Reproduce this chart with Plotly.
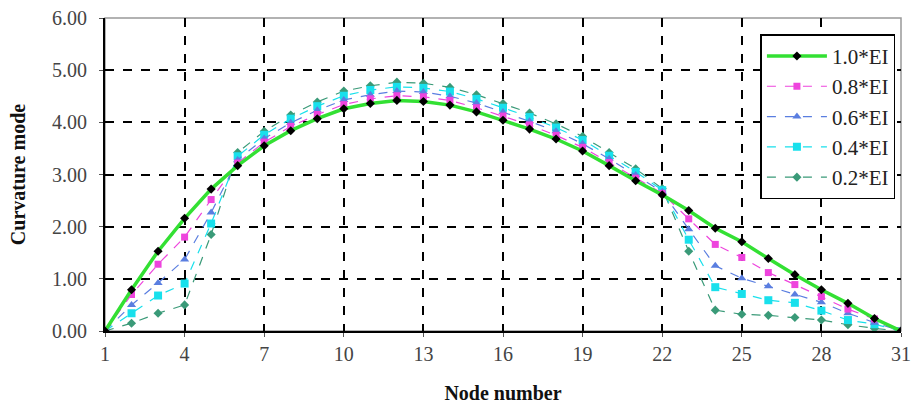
import plotly.graph_objects as go

nodes = list(range(1, 32))

ei_10 = [0.00, 0.79, 1.53, 2.16, 2.72, 3.17, 3.55, 3.84, 4.07, 4.26, 4.36, 4.42, 4.40, 4.33, 4.20,
         4.04, 3.87, 3.68, 3.45, 3.17, 2.88, 2.61, 2.31, 1.97, 1.71, 1.39, 1.08, 0.79, 0.53, 0.24, 0.00]
ei_08 = [0.00, 0.70, 1.28, 1.80, 2.52, 3.22, 3.62, 3.92, 4.15, 4.34, 4.45, 4.51, 4.49, 4.42, 4.28,
         4.12, 3.95, 3.75, 3.52, 3.23, 2.93, 2.64, 2.15, 1.66, 1.41, 1.12, 0.89, 0.66, 0.42, 0.23, 0.00]
ei_06 = [0.00, 0.50, 0.92, 1.37, 2.27, 3.28, 3.69, 3.99, 4.23, 4.43, 4.53, 4.60, 4.58, 4.50, 4.37,
         4.20, 4.02, 3.83, 3.59, 3.30, 2.99, 2.67, 1.95, 1.25, 1.01, 0.86, 0.70, 0.55, 0.34, 0.16, 0.00]
ei_04 = [0.00, 0.34, 0.68, 0.91, 2.06, 3.35, 3.76, 4.07, 4.31, 4.51, 4.62, 4.68, 4.66, 4.59, 4.45,
         4.28, 4.10, 3.90, 3.66, 3.36, 3.05, 2.70, 1.75, 0.84, 0.71, 0.59, 0.54, 0.39, 0.21, 0.13, 0.00]
ei_02 = [0.00, 0.15, 0.34, 0.50, 1.85, 3.42, 3.83, 4.14, 4.39, 4.60, 4.70, 4.77, 4.75, 4.67, 4.53,
         4.36, 4.18, 3.97, 3.73, 3.42, 3.11, 2.73, 1.53, 0.40, 0.32, 0.30, 0.26, 0.21, 0.12, 0.05, 0.00]

x_ticks = [1, 4, 7, 10, 13, 16, 19, 22, 25, 28, 31]
y_ticks = [0, 1, 2, 3, 4, 5, 6]
y_tick_text = ["0.00", "1.00", "2.00", "3.00", "4.00", "5.00", "6.00"]

serif = "Liberation Serif, Times New Roman, serif"

fig = go.Figure()

series = [
    ("0.2*EI", ei_02, "#3a9a78", "diamond", 7, 5),
    ("0.4*EI", ei_04, "#18e0ec", "square", 8, 4),
    ("0.6*EI", ei_06, "#5a7ee0", "triangle-up", 8, 3),
    ("0.8*EI", ei_08, "#ee44dd", "square", 7, 2),
]
for name, vals, col, sym, sz, rank in series:
    fig.add_trace(go.Scatter(
        x=nodes, y=vals, name=name, mode="lines+markers",
        line=dict(color=col, width=1.2, dash="dash"),
        marker=dict(symbol=sym, size=sz, color=col),
        legendgroup=name, legendrank=rank,
    ))

fig.add_trace(go.Scatter(
    x=nodes, y=ei_10, name="1.0*EI", mode="lines+markers",
    line=dict(color="#33e033", width=3.5),
    marker=dict(symbol="diamond", size=7, color="black"),
    legendgroup="1.0*EI", legendrank=1,
))

fig.update_layout(
    width=911, height=411,
    margin=dict(l=105, r=10, t=18, b=80, autoexpand=False),
    paper_bgcolor="white", plot_bgcolor="white",
    font=dict(family=serif, size=20, color="#444444"),
    showlegend=True,
    legend=dict(
        x=0.993, y=0.948, xanchor="right", yanchor="top",
        bgcolor="white", bordercolor="black", borderwidth=1.5,
        font=dict(family=serif, size=21, color="#222222"),
        traceorder="grouped", tracegroupgap=0,
        itemwidth=60,
    ),
    xaxis=dict(
        range=[1, 31], tickmode="array", tickvals=x_ticks,
        tickfont=dict(family=serif, size=20, color="#444444"),
        showgrid=True, gridcolor="black", griddash="dash", gridwidth=1.5,
        showline=True, linecolor="black", linewidth=2,
        ticks="outside", ticklen=4, tickcolor="#555555",
        ticklabeloverflow="allow",
        automargin=False,
        zeroline=False,
        title=dict(text="<b>Node number</b>", font=dict(family=serif, size=20, color="#111111"), standoff=22),
    ),
    yaxis=dict(
        range=[0, 6], tickmode="array", tickvals=y_ticks, ticktext=y_tick_text,
        tickfont=dict(family=serif, size=20, color="#444444"),
        showgrid=True, gridcolor="black", griddash="dash", gridwidth=1.5,
        showline=True, linecolor="black", linewidth=2,
        ticks="outside", ticklen=4, tickcolor="#555555",
        ticklabelstandoff=8,
        ticklabeloverflow="allow",
        automargin=False,
        zeroline=False,
        title=dict(text="<b>Curvature mode</b>", font=dict(family=serif, size=20, color="#111111"), standoff=21),
    ),
)

fig.add_shape(type="rect", xref="paper", yref="paper", x0=0, y0=0, x1=1, y1=1,
              line=dict(color="#999999", width=1.5), layer="below")

fig.write_html("out.html", config={"displayModeBar": False},
               post_script="document.body.style.margin='0px';document.body.style.overflow='hidden';")
